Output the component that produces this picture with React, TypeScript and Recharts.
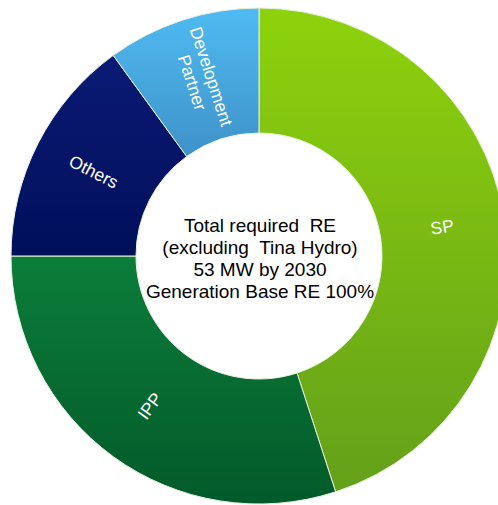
import { PieChart, Pie, Cell } from 'recharts';

const categories = ['SP', 'IPP', 'Others', 'Development Partner'];
const values = [45, 30, 15, 10];
const centerLines = [
  'Total required  RE',
  '(excluding  Tina Hydro)',
  '53 MW by 2030',
  'Generation Base RE 100%',
];

const GRADS = [
  ['#8ed20c', '#64a01a'],
  ['#0c7d3a', '#025a2a'],
  ['#0b1a74', '#000f5a'],
  ['#4fbbf2', '#3e92c8'],
];

const FONT = '"Liberation Sans", Arial, sans-serif';
const RAD = Math.PI / 180;

const chartData = categories.map((name, i) => ({ name, value: values[i] }));

function renderLabel(props: any) {
  const { cx, cy, midAngle, innerRadius, outerRadius, name } = props;
  const r = (innerRadius + outerRadius) / 2;
  const x = cx + r * Math.cos(-midAngle * RAD);
  const y = cy + r * Math.sin(-midAngle * RAD);
  let rot = -midAngle;
  while (rot <= -90) rot += 180;
  while (rot > 90) rot -= 180;
  const lines = name === 'Development Partner' ? ['Development', 'Partner'] : [name];
  const lh = 20;
  const y0 = -((lines.length - 1) * lh) / 2;
  return (
    <text
      x={x}
      y={y}
      fill="#fff"
      fontSize={17.5}
      fontFamily={FONT}
      textAnchor="middle"
      dominantBaseline="central"
      transform={`rotate(${rot} ${x} ${y})`}
    >
      {lines.map((l, i) => (
        <tspan key={l} x={x} y={y + y0 + i * lh}>
          {l}
        </tspan>
      ))}
    </text>
  );
}

export default function App() {
  const cx = 259;
  const cy = 256;
  return (
    <div style={{ position: 'absolute', left: 0, top: 0, width: 498, height: 505, background: '#fff' }}>
      <PieChart width={498} height={505} margin={{ top: 0, right: 0, bottom: 0, left: 0 }}>
        <defs>
          {GRADS.map((g, i) => (
            <linearGradient key={i} id={`grad${i}`} x1="0" y1="0" x2="0" y2="1">
              <stop offset="0%" stopColor={g[0]} />
              <stop offset="100%" stopColor={g[1]} />
            </linearGradient>
          ))}
        </defs>
        <Pie
          data={chartData}
          dataKey="value"
          nameKey="name"
          cx={cx}
          cy={cy}
          innerRadius={123}
          outerRadius={248}
          startAngle={90}
          endAngle={-270}
          stroke="#e8f0e0"
          strokeWidth={1}
          label={renderLabel}
          labelLine={false}
          isAnimationActive={false}
        >
          {chartData.map((_, idx) => (
            <Cell key={idx} fill={`url(#grad${idx})`} />
          ))}
        </Pie>
        <text
          x={cx}
          y={cy}
          fill="#000"
          fontSize={19}
          fontFamily={FONT}
          textAnchor="middle"
          style={{ whiteSpace: 'pre' }}
        >
          {centerLines.map((l, i) => (
            <tspan key={i} x={cx + 1} y={cy - 24 + i * 22} style={{ whiteSpace: 'pre' }}>
              {l}
            </tspan>
          ))}
        </text>
      </PieChart>
    </div>
  );
}
